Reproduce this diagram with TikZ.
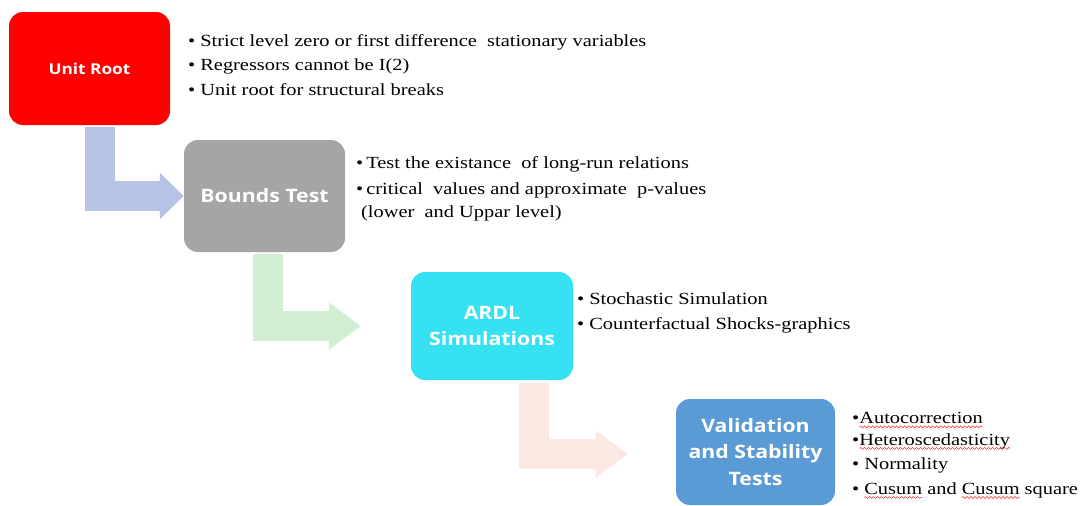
\documentclass[tikz,border=0pt]{standalone}
\usepackage{fontspec}
\setmainfont[FakeStretch=1.2]{Liberation Serif}
\newfontfamily\boxfont[FakeStretch=1.15]{Open Sans}
\usetikzlibrary{arrows.meta,calc,decorations.pathmorphing}
\definecolor{cRed}{RGB}{255,0,0}
\definecolor{cGray}{RGB}{165,165,165}
\definecolor{cCyan}{RGB}{54,226,242}
\definecolor{cBlue}{RGB}{91,155,213}
\definecolor{aBlue}{RGB}{182,195,228}
\definecolor{aGreen}{RGB}{207,238,210}
\definecolor{aPink}{RGB}{251,232,226}
\newsavebox\wvbox
\newcommand\wv[1]{\sbox\wvbox{#1}\makebox[0pt][l]{\usebox\wvbox}%
  \begin{tikzpicture}[x=1pt,y=1pt,baseline=0pt]%
  \useasboundingbox (0,0) rectangle (\the\wd\wvbox,0);%
  \draw[overlay, red!85!white, line width=0.5pt, decorate,
    decoration={snake, amplitude=1pt, segment length=4pt}] (0,-3.4) -- (\the\wd\wvbox,-3.4);%
  \end{tikzpicture}}
\begin{document}
\begin{tikzpicture}[x=1pt,y=-1pt,
  box/.style={rounded corners=14pt, inner sep=0pt, text=white, align=center,
    font=\boxfont\bfseries\fontsize{18.5}{26.5}\selectfont},
  item/.style={anchor=west, inner sep=0pt, font=\fontsize{17}{20}\selectfont},
  flow/.style={line width=30pt, line join=miter, -{Triangle[length=32pt,width=45pt]}}]
\useasboundingbox (0,0) rectangle (1088,506);
% boxes
\node[box, fill=cRed, minimum width=161pt, minimum height=113pt,
  font=\boxfont\bfseries\fontsize{15}{18}\selectfont] (ur) at (89.5,68.5) {Unit Root};
\node[box, fill=cGray, minimum width=161pt, minimum height=112pt] (bt) at (264.5,196) {Bounds Test};
\node[box, fill=cCyan, minimum width=162pt, minimum height=108pt] (ardl) at (492,326) {ARDL\\Simulations};
\node[box, fill=cBlue, minimum width=159pt, minimum height=106pt] (vst) at (755.5,452) {Validation\\and Stability\\Tests};
% bent arrows
\coordinate (s1) at ($(ur.south)+(10,2)$);
\draw[flow, aBlue, -{Triangle[length=24pt,width=45pt]}] (s1) |- (bt.west);
\coordinate (s2) at ($(bt.south)+(3,2)$);
\coordinate (e2) at ($(ardl.west)+(-50,0)$);
\draw[flow, aGreen] (s2) |- (e2);
\coordinate (s3) at ($(ardl.south)+(41.5,3)$);
\coordinate (e3) at ($(vst.west)+(-48,2)$);
\draw[flow, aPink] (s3) |- (e3);
% bullet texts
\node[item] (t1a) at (188,42) {\textbullet\hspace{5pt}Strict level zero or first difference \ stationary variables};
\node[item] (t1b) at (188,66) {\textbullet\hspace{5pt}Regressors cannot be I(2)};
\node[item] (t1c) at (188,90) {\textbullet\hspace{5pt}Unit root for structural breaks};
\node[item] (t2a) at (356,164) {\textbullet\hspace{3pt}Test the existance \ of long-run relations};
\node[item] (t2b) at (356,190) {\textbullet\hspace{3pt}critical \ values and approximate \ p-values};
\node[item] (t2c) at (361,213) {(lower \ and Uppar level)};
\node[item] (t3a) at (577,299) {\textbullet\hspace{5pt}Stochastic Simulation};
\node[item] (t3b) at (577,325) {\textbullet\hspace{5pt}Counterfactual Shocks-graphics};
\node[item] (t4a) at (852,418) {\textbullet\wv{Autocorrection}};
\node[item] (t4b) at (852,441) {\textbullet\wv{Heteroscedasticity}};
\node[item] (t4c) at (852,465) {\textbullet\hspace{5pt}Normality};
\node[item] (t4d) at (852,490) {\textbullet\hspace{5pt}\wv{Cusum} and \wv{Cusum} square};
\end{tikzpicture}
\end{document}
